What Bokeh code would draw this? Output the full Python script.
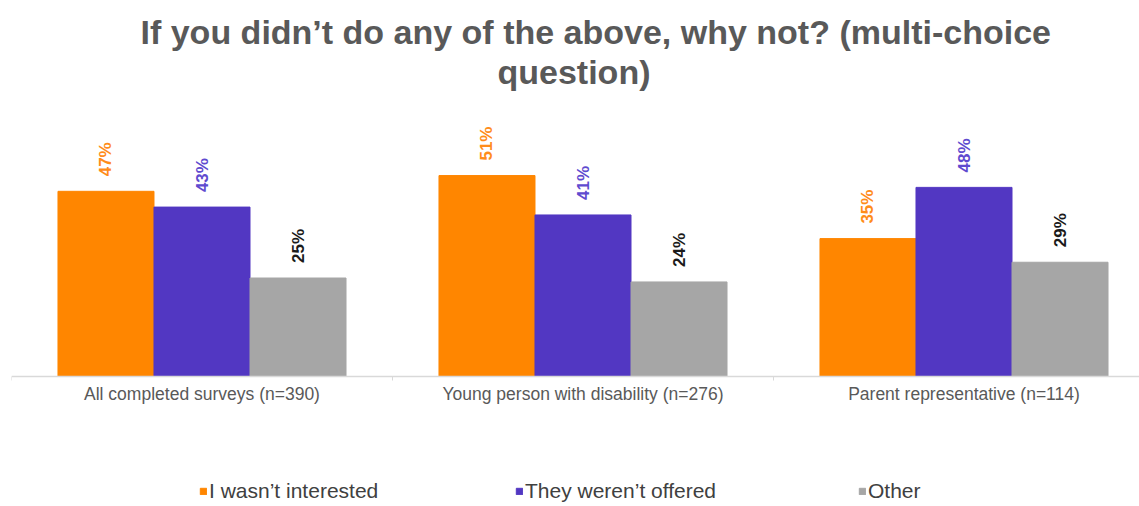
from math import pi
from bokeh.plotting import figure
from bokeh.models import ColumnDataSource, Range1d, FixedTicker, Legend, LegendItem, Title
from bokeh.transform import dodge
from bokeh.core.properties import value
from bokeh.embed import file_html
from bokeh.resources import INLINE

# ---- data ----
categories = ["All completed surveys (n=390)",
              "Young person with disability (n=276)",
              "Parent representative (n=114)"]
series_names = ["I wasn\u2019t interested", "They weren\u2019t offered", "Other"]
not_interested = [47, 51, 35]
not_offered = [43, 41, 48]
other = [25, 24, 29]
series_values = [not_interested, not_offered, other]
title_lines = ["If you didn\u2019t do any of the above, why not? (multi-choice",
               "question)"]

bar_colors = ["#FF8600", "#5237C2", "#A6A6A6"]
label_colors = ["#FF8C1A", "#5F4BCF", "#1A1A1A"]

FONT = "Liberation Sans"
PX_PER_UNIT = 3.94
W, H = 1139, 506
LEFT = 11
TOP, BASE = 90, 376
GROUP_PX = 381.0

xs = [i + 0.5 for i in range(len(categories))]
data = {"x": xs, "cat": categories}
for k, vals in enumerate(series_values):
    data[f"s{k}"] = vals
    data[f"l{k}"] = [f"{v}%" for v in vals]
src = ColumnDataSource(data)

p = figure(width=W, height=H, output_backend="svg", toolbar_location=None,
           x_range=Range1d(0, (W - LEFT) / GROUP_PX),
           y_range=Range1d(-(H - BASE) / PX_PER_UNIT, (BASE - TOP) / PX_PER_UNIT),
           y_axis_location=None, min_border_left=LEFT, min_border_right=0,
           min_border_top=TOP, min_border_bottom=0)
p.outline_line_color = None
p.grid.visible = False
p.background_fill_color = "white"
p.border_fill_color = "white"

# titles (bottom line added first so it sits next to the frame)
p.add_layout(Title(text=title_lines[1], align="left", offset=486, text_font=FONT,
                   text_font_style="bold", text_font_size="34px",
                   text_color="#595959", standoff=0), "above")
p.add_layout(Title(text=title_lines[0], align="left", offset=129, text_font=FONT,
                   text_font_style="bold", text_font_size="34px",
                   text_color="#595959", standoff=0), "above")

bw = 0.252
offsets = [-bw, 0.0, bw]
renderers = []
for k in range(3):
    r = p.vbar(x=dodge("x", offsets[k], range=p.x_range), top=f"s{k}", bottom=0,
               width=bw, source=src, fill_color=bar_colors[k],
               line_color=bar_colors[k])
    renderers.append(r)
    p.text(x=dodge("x", offsets[k], range=p.x_range), y=f"s{k}", text=f"l{k}",
           source=src, angle=pi / 2, text_align="left", text_baseline="middle",
           y_offset=-15, text_font=value(FONT), text_font_style="bold",
           text_font_size="17px", text_color=label_colors[k])

ax = p.xaxis[0]
ax.fixed_location = 0
ax.ticker = FixedTicker(ticks=xs, minor_ticks=list(range(len(categories) + 1)))
ax.major_label_overrides = {x: c for x, c in zip(xs, categories)}
ax.major_tick_line_color = None
ax.major_tick_out = 0
ax.major_tick_in = 0
ax.minor_tick_line_color = "#D9D9D9"
ax.minor_tick_out = 4
ax.minor_tick_in = 0
ax.axis_line_color = "#D9D9D9"
ax.axis_line_width = 1.5
ax.major_label_standoff = 3
ax.major_label_text_font = FONT
ax.major_label_text_font_size = "17.5px"
ax.major_label_text_color = "#595959"

legend_x = [188, 504, 847]
for k in range(3):
    lg = Legend(items=[LegendItem(label=series_names[k], renderers=[renderers[k]])],
                location=(legend_x[k], 3), orientation="horizontal",
                glyph_width=8, glyph_height=8, label_standoff=2,
                padding=0, margin=0, border_line_color=None,
                background_fill_alpha=0, label_text_font=FONT,
                label_text_font_size="21px", label_text_color="#404040",
                label_height=20)
    p.add_layout(lg)

open("out.html", "w").write(file_html(p, INLINE))
